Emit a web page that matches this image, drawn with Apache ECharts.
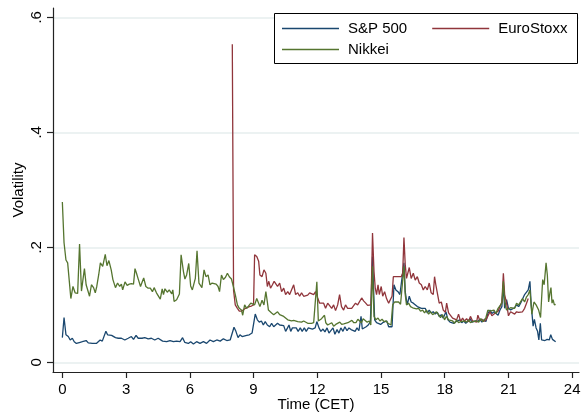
<!DOCTYPE html>
<html>
<head>
<meta charset="utf-8">
<script src="https://cdn.jsdelivr.net/npm/echarts@6/dist/echarts.min.js"></script>
<style>
  html, body { margin: 0; padding: 0; background: #fff; }
  #chart { width: 581px; height: 418px; }
</style>
</head>
<body>
<div id="chart"></div>
<script>
// tick positions / labels
const xTicks = [0, 3, 6, 9, 12, 15, 18, 21, 24]
const yTicks = [0, 0.2, 0.4, 0.6]
const yTickLabels = ['0', '.2', '.4', '.6']

// [hour (CET), volatility]
const spx = [[0,0.043],[0.08,0.078],[0.17,0.048],[0.28,0.045],[0.37,0.039],[0.47,0.042],[0.56,0.036],[0.66,0.033],[0.75,0.036],[0.84,0.035],[0.94,0.036],[1.03,0.034],[1.12,0.038],[1.22,0.034],[1.31,0.036],[1.41,0.033],[1.5,0.034],[1.6,0.033],[1.69,0.036],[1.78,0.039],[1.88,0.037],[1.97,0.039],[2.05,0.054],[2.13,0.048],[2.22,0.051],[2.32,0.047],[2.41,0.049],[2.5,0.043],[2.63,0.042],[2.78,0.042],[2.94,0.039],[3.1,0.042],[3.25,0.045],[3.35,0.04],[3.47,0.047],[3.57,0.042],[3.66,0.045],[3.75,0.042],[3.88,0.043],[4.04,0.041],[4.19,0.042],[4.35,0.039],[4.51,0.042],[4.6,0.043],[4.72,0.037],[4.91,0.036],[5.07,0.038],[5.23,0.036],[5.38,0.037],[5.54,0.036],[5.66,0.043],[5.76,0.035],[5.93,0.033],[6.04,0.036],[6.17,0.032],[6.32,0.036],[6.48,0.033],[6.64,0.036],[6.79,0.033],[6.95,0.039],[7.11,0.036],[7.27,0.039],[7.43,0.037],[7.58,0.041],[7.74,0.038],[7.9,0.039],[7.99,0.041],[8.08,0.061],[8.17,0.054],[8.27,0.043],[8.36,0.048],[8.46,0.045],[8.55,0.048],[8.68,0.047],[8.8,0.048],[8.93,0.051],[9.02,0.054],[9.08,0.084],[9.18,0.074],[9.27,0.07],[9.37,0.072],[9.46,0.065],[9.55,0.071],[9.65,0.065],[9.76,0.062],[9.85,0.068],[9.95,0.062],[10.04,0.065],[10.13,0.068],[10.23,0.065],[10.32,0.062],[10.42,0.064],[10.51,0.054],[10.6,0.06],[10.67,0.065],[10.75,0.054],[10.83,0.06],[10.92,0.057],[11.01,0.06],[11.1,0.054],[11.2,0.06],[11.29,0.054],[11.39,0.06],[11.48,0.054],[11.58,0.06],[11.67,0.057],[11.77,0.058],[11.9,0.06],[11.98,0.071],[12.08,0.06],[12.17,0.054],[12.27,0.058],[12.36,0.053],[12.46,0.06],[12.55,0.051],[12.64,0.049],[12.74,0.06],[12.83,0.049],[12.93,0.057],[13.02,0.051],[13.11,0.06],[13.21,0.054],[13.3,0.062],[13.4,0.055],[13.49,0.06],[13.59,0.057],[13.68,0.058],[13.78,0.054],[13.87,0.06],[13.96,0.055],[14.06,0.08],[14.12,0.058],[14.21,0.06],[14.3,0.062],[14.4,0.065],[14.5,0.071],[14.6,0.184],[14.7,0.074],[14.79,0.069],[14.88,0.071],[14.98,0.066],[15.08,0.069],[15.17,0.068],[15.27,0.072],[15.36,0.062],[15.45,0.06],[15.52,0.062],[15.61,0.135],[15.7,0.126],[15.8,0.123],[15.89,0.118],[15.98,0.115],[16.08,0.173],[16.14,0.123],[16.23,0.1],[16.33,0.115],[16.42,0.105],[16.52,0.103],[16.61,0.1],[16.71,0.097],[16.8,0.1],[16.9,0.094],[16.99,0.091],[17.08,0.094],[17.18,0.086],[17.27,0.091],[17.36,0.086],[17.46,0.088],[17.55,0.084],[17.65,0.087],[17.74,0.08],[17.84,0.083],[17.93,0.077],[18.06,0.088],[18.15,0.074],[18.25,0.07],[18.34,0.072],[18.43,0.068],[18.53,0.071],[18.62,0.068],[18.71,0.074],[18.8,0.069],[18.9,0.072],[18.99,0.068],[19.09,0.071],[19.19,0.076],[19.28,0.07],[19.37,0.068],[19.46,0.072],[19.56,0.071],[19.65,0.075],[19.75,0.07],[19.84,0.074],[19.94,0.071],[20.03,0.085],[20.13,0.091],[20.22,0.085],[20.32,0.088],[20.41,0.089],[20.51,0.082],[20.6,0.091],[20.69,0.097],[20.76,0.135],[20.82,0.094],[20.91,0.109],[21.0,0.094],[21.1,0.091],[21.19,0.094],[21.29,0.095],[21.38,0.1],[21.48,0.097],[21.57,0.103],[21.66,0.105],[21.76,0.118],[21.85,0.115],[21.93,0.126],[22.01,0.141],[22.07,0.1],[22.16,0.063],[22.22,0.075],[22.3,0.06],[22.37,0.054],[22.43,0.039],[22.5,0.068],[22.56,0.039],[22.63,0.042],[22.72,0.038],[22.82,0.04],[22.92,0.039],[22.99,0.048],[23.07,0.04],[23.15,0.037],[23.22,0.036]]

const euro = [[8.0,0.553],[8.06,0.125],[8.14,0.1],[8.24,0.094],[8.33,0.089],[8.43,0.089],[8.52,0.091],[8.62,0.094],[8.71,0.092],[8.8,0.097],[8.9,0.098],[9.0,0.1],[9.05,0.187],[9.15,0.184],[9.24,0.176],[9.3,0.152],[9.4,0.149],[9.49,0.161],[9.58,0.155],[9.65,0.132],[9.72,0.141],[9.8,0.129],[9.89,0.135],[9.97,0.141],[10.04,0.138],[10.13,0.132],[10.23,0.138],[10.32,0.123],[10.42,0.129],[10.51,0.118],[10.61,0.123],[10.7,0.118],[10.79,0.121],[10.89,0.135],[10.98,0.118],[11.08,0.121],[11.17,0.115],[11.26,0.121],[11.36,0.115],[11.45,0.118],[11.55,0.117],[11.64,0.121],[11.73,0.119],[11.83,0.118],[11.92,0.123],[12.02,0.112],[12.11,0.103],[12.2,0.1],[12.3,0.103],[12.39,0.094],[12.49,0.103],[12.58,0.1],[12.68,0.094],[12.77,0.1],[12.86,0.09],[12.96,0.1],[13.05,0.118],[13.14,0.097],[13.24,0.091],[13.33,0.1],[13.43,0.094],[13.52,0.097],[13.62,0.094],[13.71,0.094],[13.8,0.103],[13.9,0.1],[13.99,0.097],[14.09,0.112],[14.18,0.107],[14.28,0.103],[14.37,0.099],[14.46,0.097],[14.53,0.1],[14.6,0.225],[14.67,0.158],[14.73,0.129],[14.79,0.118],[14.86,0.135],[14.92,0.118],[15.01,0.132],[15.08,0.115],[15.17,0.123],[15.26,0.111],[15.36,0.103],[15.45,0.105],[15.52,0.115],[15.58,0.149],[15.67,0.152],[15.77,0.149],[15.86,0.152],[15.95,0.149],[16.02,0.155],[16.08,0.217],[16.14,0.17],[16.2,0.146],[16.27,0.149],[16.33,0.165],[16.42,0.146],[16.52,0.155],[16.61,0.143],[16.71,0.149],[16.8,0.138],[16.9,0.135],[16.99,0.126],[17.08,0.132],[17.18,0.126],[17.27,0.138],[17.36,0.121],[17.46,0.118],[17.52,0.149],[17.58,0.135],[17.65,0.121],[17.74,0.103],[17.84,0.105],[17.93,0.091],[18.03,0.087],[18.09,0.103],[18.18,0.086],[18.27,0.083],[18.37,0.077],[18.46,0.078],[18.56,0.074],[18.65,0.084],[18.75,0.071],[18.84,0.077],[18.93,0.072],[19.03,0.076],[19.12,0.071],[19.21,0.08],[19.31,0.072],[19.4,0.071],[19.5,0.07],[19.56,0.082],[19.65,0.073],[19.75,0.075],[19.84,0.071],[19.94,0.074],[20.03,0.077],[20.13,0.088],[20.22,0.081],[20.32,0.084],[20.41,0.083],[20.51,0.089],[20.6,0.088],[20.69,0.105],[20.76,0.155],[20.82,0.118],[20.91,0.103],[21.0,0.081],[21.1,0.088],[21.19,0.09],[21.29,0.084],[21.38,0.088],[21.48,0.087],[21.57,0.09],[21.66,0.088],[21.76,0.094],[21.85,0.103],[21.93,0.111]]

const nikkei = [[0,0.279],[0.08,0.208],[0.17,0.178],[0.25,0.173],[0.4,0.111],[0.5,0.132],[0.6,0.121],[0.72,0.12],[0.81,0.206],[0.9,0.124],[0.97,0.144],[1.04,0.163],[1.12,0.135],[1.2,0.132],[1.28,0.115],[1.37,0.135],[1.47,0.13],[1.55,0.121],[1.62,0.132],[1.71,0.152],[1.79,0.173],[1.9,0.167],[2.02,0.188],[2.1,0.168],[2.19,0.177],[2.3,0.161],[2.38,0.144],[2.5,0.13],[2.6,0.138],[2.7,0.132],[2.78,0.136],[2.84,0.126],[2.95,0.14],[3.05,0.134],[3.15,0.136],[3.25,0.137],[3.35,0.136],[3.42,0.163],[3.49,0.155],[3.58,0.144],[3.68,0.132],[3.77,0.141],[3.83,0.147],[3.93,0.132],[4.04,0.129],[4.14,0.129],[4.24,0.123],[4.32,0.13],[4.43,0.121],[4.52,0.118],[4.61,0.11],[4.7,0.128],[4.76,0.118],[4.83,0.128],[4.94,0.122],[5.03,0.126],[5.15,0.119],[5.2,0.126],[5.26,0.106],[5.38,0.109],[5.51,0.119],[5.59,0.187],[5.7,0.158],[5.77,0.145],[5.85,0.152],[5.95,0.172],[6.04,0.133],[6.12,0.126],[6.2,0.126],[6.26,0.146],[6.34,0.194],[6.43,0.138],[6.51,0.136],[6.57,0.13],[6.67,0.161],[6.76,0.149],[6.86,0.152],[6.95,0.135],[7.05,0.138],[7.14,0.135],[7.24,0.136],[7.33,0.132],[7.4,0.123],[7.49,0.152],[7.58,0.144],[7.68,0.148],[7.77,0.155],[7.86,0.149],[7.96,0.145],[8.05,0.132],[8.14,0.118],[8.24,0.1],[8.33,0.094],[8.43,0.091],[8.49,0.082],[8.58,0.1],[8.68,0.094],[8.77,0.097],[8.87,0.103],[8.96,0.105],[9.05,0.1],[9.15,0.111],[9.24,0.103],[9.3,0.097],[9.4,0.108],[9.49,0.1],[9.58,0.123],[9.65,0.105],[9.7,0.091],[9.77,0.094],[9.85,0.086],[9.95,0.083],[10.04,0.084],[10.13,0.088],[10.23,0.083],[10.32,0.084],[10.42,0.08],[10.51,0.078],[10.61,0.074],[10.7,0.075],[10.79,0.072],[10.89,0.073],[10.98,0.072],[11.08,0.071],[11.17,0.074],[11.26,0.07],[11.36,0.072],[11.45,0.072],[11.55,0.068],[11.64,0.07],[11.73,0.068],[11.83,0.069],[11.92,0.068],[11.98,0.14],[12.05,0.072],[12.11,0.069],[12.2,0.076],[12.27,0.074],[12.34,0.082],[12.4,0.069],[12.49,0.065],[12.58,0.063],[12.68,0.069],[12.77,0.063],[12.87,0.066],[12.96,0.069],[13.06,0.07],[13.15,0.066],[13.25,0.067],[13.34,0.069],[13.44,0.069],[13.53,0.072],[13.63,0.073],[13.72,0.069],[13.82,0.069],[13.91,0.075],[14.0,0.073],[14.08,0.069],[14.16,0.076],[14.25,0.073],[14.35,0.07],[14.45,0.072],[14.52,0.065],[14.6,0.167],[14.67,0.08],[14.76,0.074],[14.86,0.077],[14.95,0.072],[15.05,0.075],[15.14,0.071],[15.24,0.072],[15.33,0.068],[15.4,0.066],[15.47,0.065],[15.55,0.1],[15.64,0.105],[15.73,0.106],[15.83,0.105],[15.92,0.101],[16.0,0.1],[16.08,0.167],[16.14,0.118],[16.2,0.1],[16.3,0.103],[16.39,0.097],[16.49,0.095],[16.58,0.097],[16.67,0.093],[16.77,0.094],[16.86,0.089],[16.96,0.091],[17.05,0.086],[17.14,0.091],[17.24,0.084],[17.33,0.088],[17.43,0.083],[17.52,0.086],[17.61,0.088],[17.71,0.083],[17.8,0.078],[17.9,0.083],[17.99,0.074],[18.08,0.08],[18.18,0.074],[18.27,0.071],[18.37,0.072],[18.46,0.068],[18.56,0.074],[18.65,0.069],[18.75,0.071],[18.84,0.068],[18.93,0.072],[19.03,0.07],[19.12,0.074],[19.21,0.069],[19.31,0.071],[19.4,0.068],[19.5,0.072],[19.6,0.07],[19.7,0.076],[19.8,0.071],[19.94,0.078],[20.03,0.091],[20.13,0.089],[20.22,0.087],[20.32,0.091],[20.41,0.085],[20.51,0.094],[20.6,0.091],[20.69,0.103],[20.76,0.141],[20.82,0.105],[20.91,0.091],[21.0,0.094],[21.1,0.095],[21.19,0.094],[21.29,0.094],[21.38,0.103],[21.48,0.1],[21.57,0.103],[21.66,0.111],[21.76,0.105],[21.85,0.114],[21.93,0.118],[22.01,0.126],[22.1,0.084],[22.2,0.105],[22.3,0.1],[22.42,0.091],[22.51,0.078],[22.61,0.144],[22.68,0.135],[22.77,0.173],[22.83,0.152],[22.89,0.105],[22.95,0.121],[23.0,0.13],[23.05,0.103],[23.1,0.109],[23.16,0.1],[23.22,0.101]]

const font = 'Liberation Sans, Arial, Helvetica, sans-serif'
const chart = echarts.init(document.getElementById('chart'), null, { renderer: 'canvas' })

// shared legend look (two rows, like Stata's 2-column key)
const legendBase = {
  left: 282,
  padding: 0,
  itemGap: 25,
  itemWidth: 57,
  itemHeight: 1.5,
  icon: 'rect',
  textStyle: { fontFamily: font, fontSize: 15, color: '#000', padding: [0, 0, 0, 4] }
}

const option = {
  animation: false,
  backgroundColor: '#fff',
  textStyle: { fontFamily: font },
  grid: { left: 53, right: 2, top: 8, bottom: 46, containLabel: false, outerBoundsMode: 'none' },
  graphic: [{
    type: 'rect',
    left: 274,
    top: 13,
    z: 50,
    shape: { width: 303, height: 50 },
    style: { fill: '#fff', stroke: '#000', lineWidth: 1 }
  }],
  legend: [
    Object.assign({}, legendBase, { data: ['S&P 500', 'EuroStoxx'], top: 21, z: 60 }),
    Object.assign({}, legendBase, { data: ['Nikkei'], top: 42, z: 60 })
  ],
  xAxis: {
    type: 'value',
    min: -0.44,
    max: 24.32,
    name: 'Time (CET)',
    nameLocation: 'middle',
    nameGap: 25,
    nameMoveOverlap: false,
    nameTextStyle: { fontFamily: font, fontSize: 15, color: '#000' },
    axisLine: { show: true, onZero: false, lineStyle: { color: '#222', width: 1.2 } },
    axisTick: { show: true, length: 6, customValues: xTicks, lineStyle: { color: '#222', width: 1.2 } },
    axisLabel: { customValues: xTicks, margin: 10, fontSize: 15, color: '#000', fontFamily: font },
    splitLine: { show: false }
  },
  yAxis: {
    type: 'value',
    min: -0.0167,
    max: 0.6162,
    name: 'Volatility',
    nameLocation: 'middle',
    nameGap: 27,
    nameRotate: 90,
    nameMoveOverlap: false,
    nameTextStyle: { fontFamily: font, fontSize: 15, color: '#000' },
    axisLine: { show: true, onZero: false, lineStyle: { color: '#222', width: 1.2 } },
    axisTick: { show: true, length: 6, customValues: yTicks, lineStyle: { color: '#222', width: 1.2 } },
    axisLabel: {
      customValues: yTicks,
      rotate: 90,
      margin: 9,
      fontSize: 15,
      color: '#000',
      fontFamily: font,
      formatter: function (v) {
        const i = yTicks.findIndex(t => Math.abs(t - v) < 1e-9)
        return i >= 0 ? yTickLabels[i] : ''
      }
    },
    splitLine: { show: true, lineStyle: { color: '#e6eeee', width: 1.5 } }
  },
  series: [
    { name: 'S&P 500', type: 'line', data: spx, symbol: 'none', showSymbol: false, color: '#1a476f', lineStyle: { width: 1.3 } },
    { name: 'EuroStoxx', type: 'line', data: euro, symbol: 'none', showSymbol: false, color: '#90353b', lineStyle: { width: 1.3 } },
    { name: 'Nikkei', type: 'line', data: nikkei, symbol: 'none', showSymbol: false, color: '#55752f', lineStyle: { width: 1.3 } }
  ]
}

chart.setOption(option)
</script>
</body>
</html>
